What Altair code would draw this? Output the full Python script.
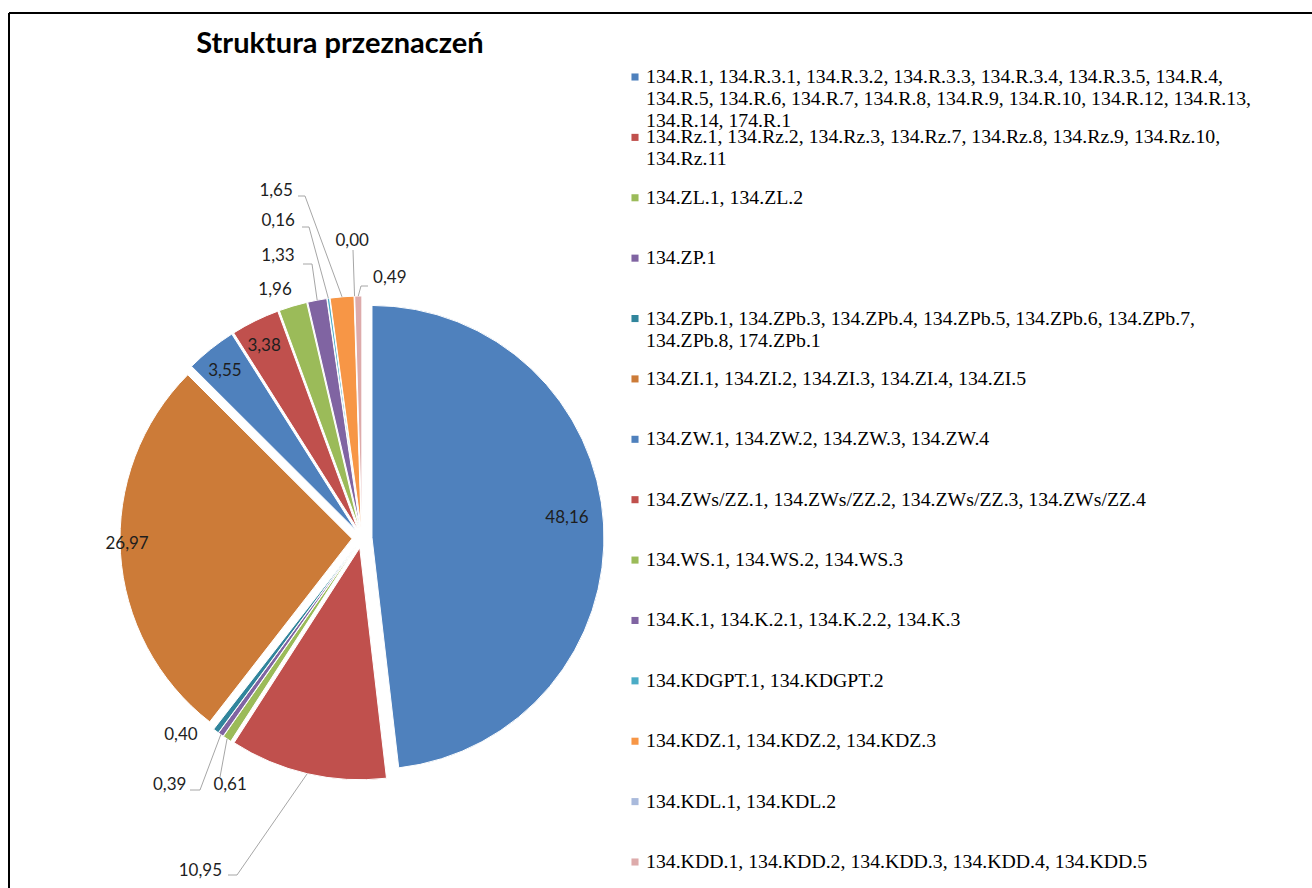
import math
import altair as alt
import pandas as pd

# ---------------- data ----------------
NAMES = [
    "134.R.1, 134.R.3.1, 134.R.3.2, 134.R.3.3, 134.R.3.4, 134.R.3.5, 134.R.4,\n134.R.5, 134.R.6, 134.R.7, 134.R.8, 134.R.9, 134.R.10, 134.R.12, 134.R.13,\n134.R.14, 174.R.1",
    "134.Rz.1, 134.Rz.2, 134.Rz.3, 134.Rz.7, 134.Rz.8, 134.Rz.9, 134.Rz.10,\n134.Rz.11",
    "134.ZL.1, 134.ZL.2",
    "134.ZP.1",
    "134.ZPb.1, 134.ZPb.3, 134.ZPb.4, 134.ZPb.5, 134.ZPb.6, 134.ZPb.7,\n134.ZPb.8, 174.ZPb.1",
    "134.ZI.1, 134.ZI.2, 134.ZI.3, 134.ZI.4, 134.ZI.5",
    "134.ZW.1, 134.ZW.2, 134.ZW.3, 134.ZW.4",
    "134.ZWs/ZZ.1, 134.ZWs/ZZ.2, 134.ZWs/ZZ.3, 134.ZWs/ZZ.4",
    "134.WS.1, 134.WS.2, 134.WS.3",
    "134.K.1, 134.K.2.1, 134.K.2.2, 134.K.3",
    "134.KDGPT.1, 134.KDGPT.2",
    "134.KDZ.1, 134.KDZ.2, 134.KDZ.3",
    "134.KDL.1, 134.KDL.2",
    "134.KDD.1, 134.KDD.2, 134.KDD.3, 134.KDD.4, 134.KDD.5",
]
VALUES = [48.16, 10.95, 0.61, 0.39, 0.40, 26.97, 3.55, 3.38, 1.96, 1.33, 0.16, 1.65, 0.00, 0.49]
TITLE = "Struktura przeznaczeń"

# ---------------- styles / layout ----------------
COLORS = ["#4F81BD", "#C0504D", "#9BBB59", "#8064A2", "#31859C", "#CC7B38",
          "#4F81BD", "#C0504D", "#9BBB59", "#8064A2", "#4BACC6", "#F79646",
          "#A9BADC", "#DDABAB"]
W, H = 1312, 888
CX, CY = 362, 538      # pie centre
R = 232                # pie radius
EXPLODE = 10           # explosion distance of each slice
# label placement (polar, relative to pie centre): angle in degrees, radius in px
LABEL_ANGLE = [84.4, 205.9, 208.1, 217.9, 222.6, 268.5, 320.6, 333.0, 340.7, 343.4, 345.2, 346.1, 358.1, 6.1]
LABEL_RADIUS = [206, 370, 280, 313, 267.5, 235, 216, 215.6, 263, 294, 328, 357.5, 297, 261.5]
# leader lines: points next to the label (the slice end is computed)
LEADERS = {
    1: [(228, 875), (237, 875)],
    2: [(220, 777)],
    3: [(190, 790), (200, 790)],
    9: [(303, 264), (312, 264)],
    10: [(302, 227), (309, 227)],
    11: [(298, 196), (305, 196)],
    12: [(353, 250)],
    13: [(368, 286), (361, 286)],
}

fmt = [f"{v:.2f}".replace(".", ",") for v in VALUES]
df = pd.DataFrame({"idx": list(range(len(NAMES))), "name": NAMES, "value": VALUES,
                   "label": fmt, "lang": LABEL_ANGLE, "lrad": LABEL_RADIUS})

# leader table
total = sum(VALUES)
cum = 0.0
mids = []
for v in VALUES:
    mids.append((cum + v / 2) / total * 2 * math.pi)
    cum += v
rows = []
for i, pts in LEADERS.items():
    seq = list(pts)
    seq.append((CX + (R + EXPLODE) * math.sin(mids[i]), CY - (R + EXPLODE) * math.cos(mids[i])))
    for o, (px, py) in enumerate(seq):
        rows.append({"lid": i, "o": o, "px": px, "py": py})
lead_df = pd.DataFrame(rows)

color_scale = alt.Scale(domain=NAMES, range=COLORS)

base = alt.Chart(df)

pie = base.transform_window(
    cum="sum(value)", sort=[alt.SortField("idx")], frame=[None, 0]
).transform_calculate(
    start="datum.cum - datum.value",
    mid="(datum.cum - datum.value / 2) / 100 * 2 * PI",
    cx=f"{CX} + {EXPLODE} * sin(datum.mid)",
    cy=f"{CY} - {EXPLODE} * cos(datum.mid)",
).mark_arc(radius=R, stroke="white", strokeWidth=1).encode(
    theta=alt.Theta("start:Q", scale=alt.Scale(domain=[0, 100], range=[0, 2 * math.pi]), stack=False),
    theta2="cum:Q",
    x=alt.X("cx:Q", scale=None),
    y=alt.Y("cy:Q", scale=None),
    color=alt.Color("name:N", scale=color_scale, legend=None),
)

labels = base.transform_calculate(
    lx=f"{CX} + datum.lrad * sin(datum.lang * PI / 180)",
    ly=f"{CY} - datum.lrad * cos(datum.lang * PI / 180)",
).mark_text(font="Lato", fontSize=17, color="#1e1e1e", align="center", baseline="middle").encode(
    x=alt.X("lx:Q", scale=None),
    y=alt.Y("ly:Q", scale=None),
    text="label:N",
)

leaders = alt.Chart(lead_df).mark_line(color="#A6A6A6", strokeWidth=1).encode(
    x=alt.X("px:Q", scale=None),
    y=alt.Y("py:Q", scale=None),
    detail="lid:N",
    order="o:Q",
)

leg_y = alt.Y("idx:Q", scale=alt.Scale(domain=[0, 13], range=[77, 862]), axis=None)
leg_marks = base.mark_square(size=50, opacity=1).encode(
    x=alt.value(635),
    y=leg_y,
    color=alt.Color("name:N", scale=color_scale, legend=None),
)
leg_text = base.mark_text(font="Liberation Serif", fontSize=19.8, lineHeight=22, lineBreak="\n",
                          align="left", baseline="line-top", color="#000000", yOffset=-11).encode(
    x=alt.value(646),
    y=leg_y,
    text="name:N",
)

title = alt.Chart(pd.DataFrame({"t": [TITLE]})).mark_text(
    font="Lato", fontSize=29, fontWeight="bold", color="#000000", align="center", baseline="middle"
).encode(x=alt.value(340), y=alt.value(44), text="t:N")

one = pd.DataFrame({"a": [0]})
border_top = alt.Chart(one).mark_rule(color="black", strokeWidth=2).encode(
    x=alt.value(9), x2=alt.value(W), y=alt.value(13), y2=alt.value(13))
border_left = alt.Chart(one).mark_rule(color="black", strokeWidth=2).encode(
    x=alt.value(9), x2=alt.value(9), y=alt.value(13), y2=alt.value(H))

chart = alt.layer(
    border_top, border_left, pie, leaders, labels, leg_marks, leg_text, title
).resolve_scale(
    x="independent", y="independent", color="independent", theta="independent"
).properties(
    width=W, height=H, padding=0, autosize=alt.AutoSizeParams(type="none"), background="white"
).configure_view(stroke=None)

chart.save("out.html", embed_options={"renderer": "svg", "actions": False})
